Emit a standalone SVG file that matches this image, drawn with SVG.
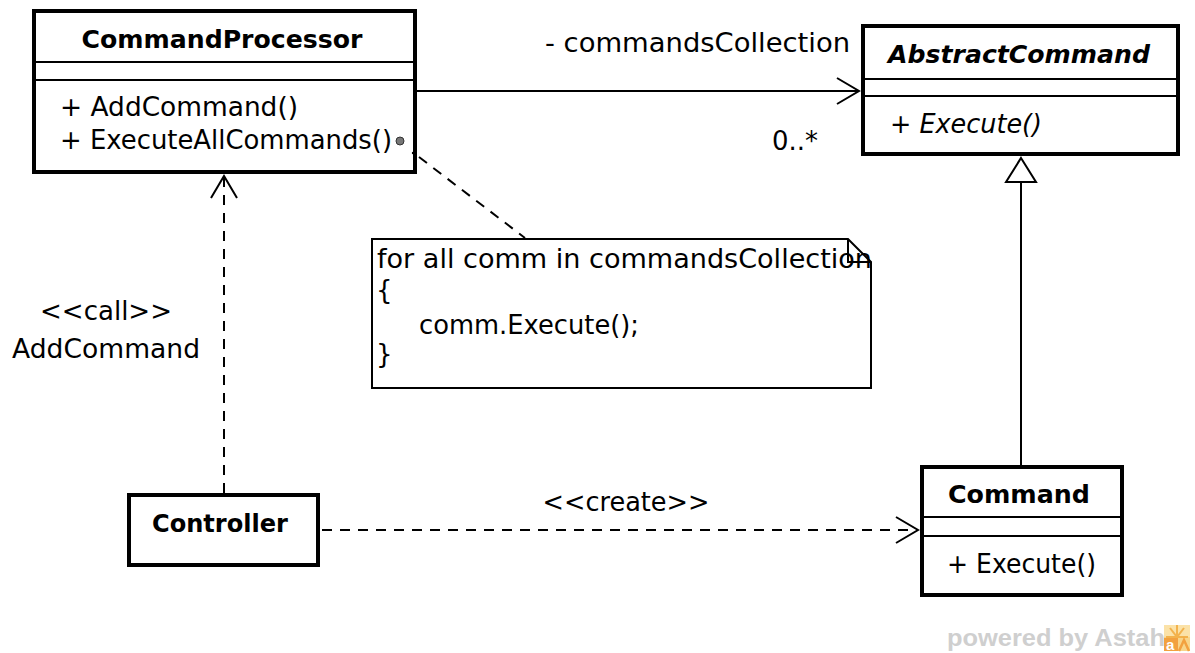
<svg xmlns="http://www.w3.org/2000/svg" width="1195" height="653" viewBox="0 0 1195 653">
  <style>
    .box { fill: #fff; stroke: #000; stroke-width: 4; }
    .sep { stroke: #000; stroke-width: 2; }
    .title { font-family: "DejaVu Sans", "Liberation Sans", sans-serif; font-size: 25px; font-weight: bold; fill: #000; }
    .txt { font-family: "DejaVu Sans", "Liberation Sans", sans-serif; font-size: 26px; fill: #000; }
    .ital { font-style: italic; }
    .line { fill: none; stroke: #000; stroke-width: 2; }
    .dash { stroke-dasharray: 10 8; }
    .note { fill: #fff; stroke: #000; stroke-width: 2; }
  </style>
  <defs>
    <marker id="open" markerUnits="userSpaceOnUse" markerWidth="30" markerHeight="32" refX="23" refY="14" orient="auto" viewBox="0 0 30 32">
      <path d="M1,1 L23,14 L1,27" fill="none" stroke="#000" stroke-width="2"/>
    </marker>
  </defs>

  <rect width="1195" height="653" fill="#fff"/>

  <!-- CommandProcessor -->
  <g id="CommandProcessor">
    <rect class="box" x="34" y="11" width="381" height="161"/>
    <line class="sep" x1="36" y1="62" x2="413" y2="62"/>
    <line class="sep" x1="36" y1="80" x2="413" y2="80"/>
    <text class="title" x="222" y="48" text-anchor="middle" textLength="281" lengthAdjust="spacingAndGlyphs">CommandProcessor</text>
    <text class="txt" x="60" y="116" textLength="238" lengthAdjust="spacingAndGlyphs">+ AddCommand()</text>
    <text class="txt" x="60" y="149" textLength="332" lengthAdjust="spacingAndGlyphs">+ ExecuteAllCommands()</text>
  </g>

  <!-- AbstractCommand -->
  <g id="AbstractCommand">
    <rect class="box" x="863" y="26" width="315" height="128"/>
    <line class="sep" x1="865" y1="79" x2="1176" y2="79"/>
    <line class="sep" x1="865" y1="96" x2="1176" y2="96"/>
    <text class="title ital" x="1019" y="63" text-anchor="middle" textLength="262" lengthAdjust="spacingAndGlyphs">AbstractCommand</text>
    <text class="txt ital" x="890" y="133" textLength="152" lengthAdjust="spacingAndGlyphs">+ Execute()</text>
  </g>

  <!-- Command -->
  <g id="Command">
    <rect class="box" x="922" y="467" width="200" height="128"/>
    <line class="sep" x1="924" y1="517" x2="1120" y2="517"/>
    <line class="sep" x1="924" y1="536" x2="1120" y2="536"/>
    <text class="title" x="1019" y="503" text-anchor="middle" textLength="142" lengthAdjust="spacingAndGlyphs">Command</text>
    <text class="txt" x="947" y="573" textLength="149" lengthAdjust="spacingAndGlyphs">+ Execute()</text>
  </g>

  <!-- Controller -->
  <g id="Controller">
    <rect class="box" x="129" y="495" width="189" height="70"/>
    <text class="title" x="220" y="532" text-anchor="middle" textLength="136" lengthAdjust="spacingAndGlyphs">Controller</text>
  </g>

  <!-- note -->
  <g id="Note">
    <path class="note" d="M372,239 H848 L871,262 V388 H372 Z"/>
    <path class="line" d="M848,239 V262 H871"/>
    <text class="txt" x="377" y="268" textLength="495" lengthAdjust="spacingAndGlyphs">for all comm in commandsCollection</text>
    <text class="txt" x="376" y="299">{</text>
    <text class="txt" x="419" y="334" textLength="220" lengthAdjust="spacingAndGlyphs">comm.Execute();</text>
    <text class="txt" x="376" y="363">}</text>
  </g>

  <!-- connectors -->
  <g id="connectors">
    <!-- association with navigability -->
    <line class="line" x1="417" y1="91" x2="859" y2="91" marker-end="url(#open)"/>
    <text class="txt" x="545" y="52" textLength="305" lengthAdjust="spacingAndGlyphs">- commandsCollection</text>
    <text class="txt" x="772" y="150" textLength="46" lengthAdjust="spacingAndGlyphs">0..*</text>

    <!-- generalization -->
    <line class="line" x1="1021" y1="182" x2="1021" y2="465"/>
    <path d="M1021,158 L1036,182 L1006,182 Z" fill="#fff" stroke="#000" stroke-width="2"/>

    <!-- call dependency -->
    <line class="line dash" x1="224" y1="493" x2="224" y2="176" marker-end="url(#open)"/>
    <text class="txt" x="106" y="320" text-anchor="middle" textLength="132" lengthAdjust="spacingAndGlyphs">&lt;&lt;call&gt;&gt;</text>
    <text class="txt" x="12" y="358" textLength="188" lengthAdjust="spacingAndGlyphs">AddCommand</text>

    <!-- create dependency -->
    <line class="line dash" x1="322" y1="530" x2="918" y2="530" marker-end="url(#open)"/>
    <text class="txt" x="626" y="511" text-anchor="middle" textLength="167" lengthAdjust="spacingAndGlyphs">&lt;&lt;create&gt;&gt;</text>

    <!-- note anchor -->
    <line class="line dash" x1="419" y1="157" x2="525" y2="238"/>
    <circle cx="413" cy="153" r="1.2" fill="#000"/>
    <circle cx="400" cy="141" r="4" fill="#777" stroke="#333" stroke-width="1"/>
  </g>

  <!-- tool badge -->
  <g id="badge">
    <text x="947" y="646" font-family="'Liberation Sans', Arial, sans-serif" font-weight="bold" font-size="24" fill="#cfcfcf" textLength="218" lengthAdjust="spacingAndGlyphs">powered by Astah</text>
    <rect x="1164" y="625" width="26" height="26" fill="#f8d58a"/>
    <path d="M1164,625 H1190 V637 H1164 Z" fill="#fbe2a8"/>
    <path d="M1177,625 V637 M1170,628 L1177,637 L1184,628 M1166,637 H1188" stroke="#f3b24c" stroke-width="2" fill="none"/>
    <rect x="1164" y="638" width="14" height="13" fill="#f2a13f"/>
    <path d="M1179,651 L1184,640 L1189,651" stroke="#f2a13f" stroke-width="2.5" fill="none"/>
    <text x="1166" y="650" font-family="'Liberation Sans', Arial, sans-serif" font-weight="bold" font-size="15" fill="#fff">a</text>
  </g>
</svg>
